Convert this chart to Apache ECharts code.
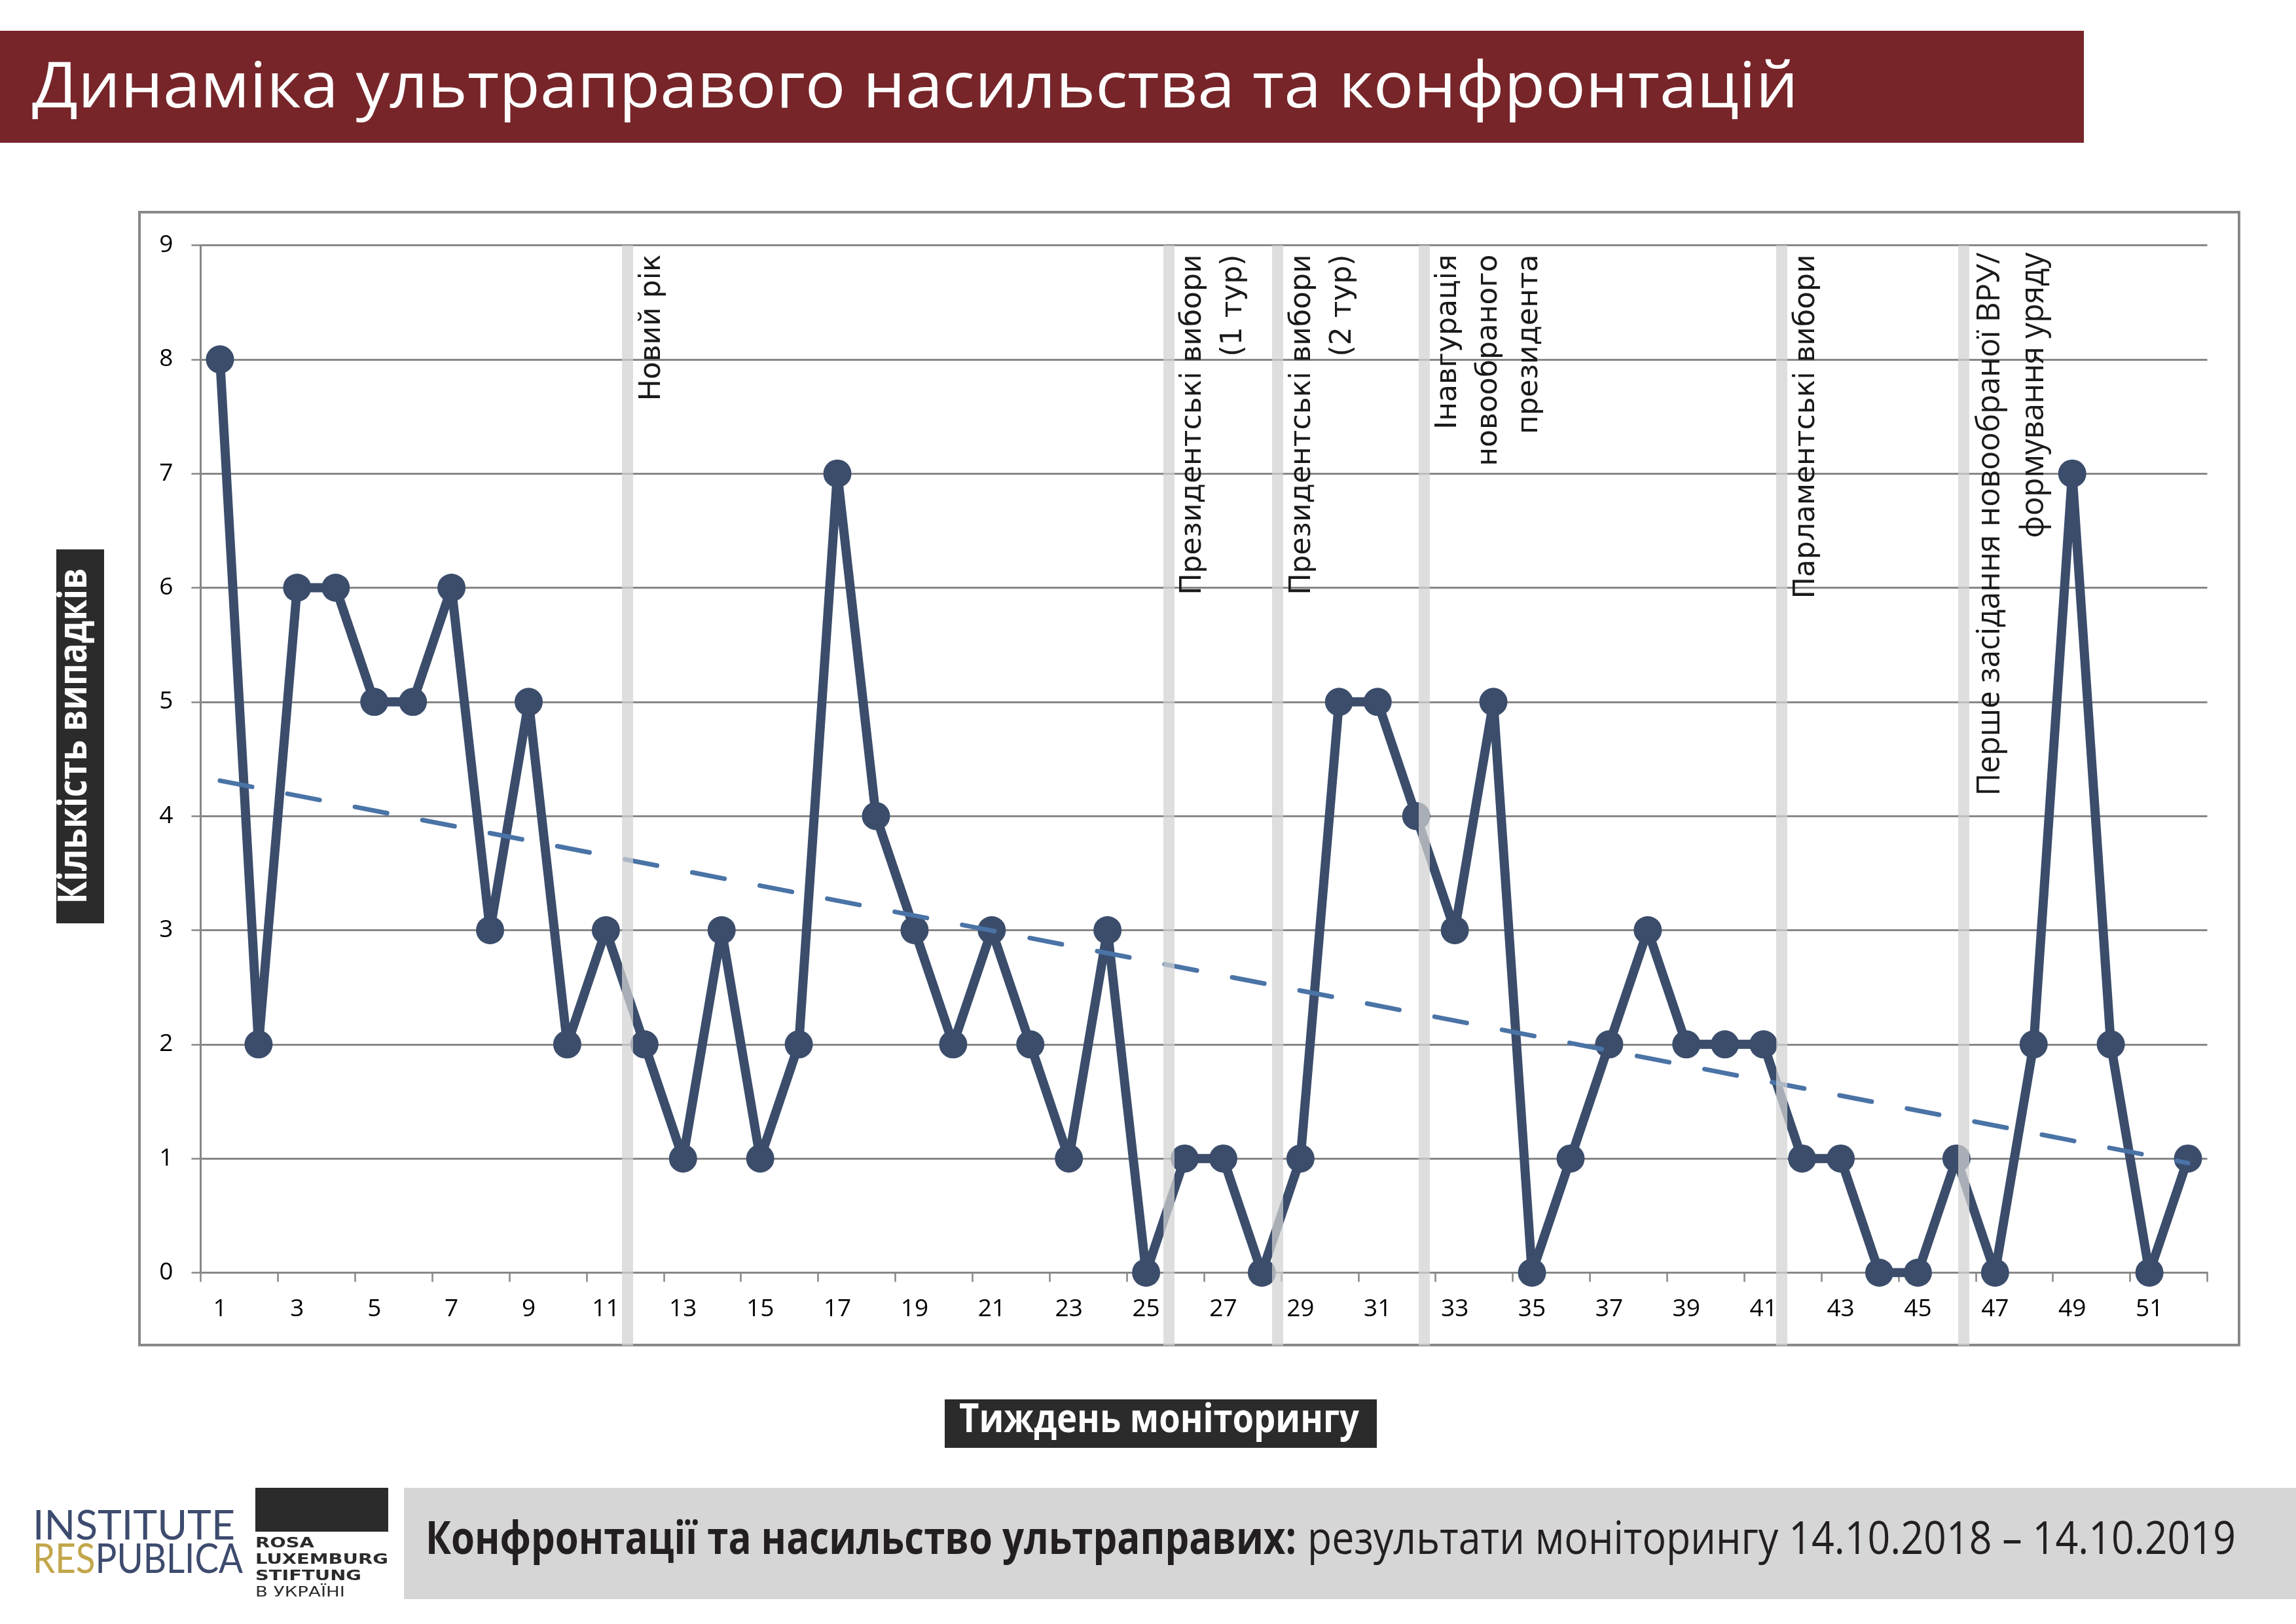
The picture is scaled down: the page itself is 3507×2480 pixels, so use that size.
<!DOCTYPE html>
<html><head><meta charset="utf-8">
<script src="https://cdn.jsdelivr.net/npm/echarts@6/dist/echarts.min.js"></script>
<style>html,body{margin:0;padding:0;background:#fff}#c{width:3507px;height:2480px}</style>
</head><body><div id="c"></div>
<script>
// ---- data ----
const weeks = ['1','2','3','4','5','6','7','8','9','10','11','12','13','14','15','16','17','18','19','20','21','22','23','24','25','26','27','28','29','30','31','32','33','34','35','36','37','38','39','40','41','42','43','44','45','46','47','48','49','50','51','52'];
const incidents = [8,2,6,6,5,5,6,3,5,2,3,2,1,3,1,2,7,4,3,2,3,2,1,3,0,1,1,0,1,5,5,4,3,5,0,1,2,3,2,2,2,1,1,0,0,1,0,2,7,2,0,1];
const trendWeeks = ['1','52'];
const trendValues = [4.31, 0.96];
const eventWeeks = [11.56, 25.58, 28.41, 32.2, 41.47, 46.18];
const eventLabels = ['Новий рік','Президентські вибори\n(1 тур)','Президентські вибори\n(2 тур)','Інавгурація\nновообраного\nпрезидента','Парламентські вибори','Перше засідання новообраної ВРУ/\nформування уряду'];
const titleText = 'Динаміка ультраправого насильства та конфронтацій';
const yName = 'Кількість випадків';
const xName = 'Тиждень моніторингу';
const footBold = 'Конфронтації та насильство ультраправих:';
const footReg = 'результати моніторингу 14.10.2018 – 14.10.2019';

// ---- helpers ----
const mctx = document.createElement('canvas').getContext('2d');
function mw(t, f){ mctx.font = f; return mctx.measureText(t).width; }
function txt(o){
  const s = o.w ? o.w / mw(o.text, o.font) : 1;
  return {type:'text', x:o.x, y:o.y, rotation:o.rot||0, scaleX:s, silent:true, z:200,
    style:{text:o.text, font:o.font, fill:o.fill, align:o.align||'left', verticalAlign:o.va||'middle', lineHeight:o.lh}};
}

const chart = echarts.init(document.getElementById('c'), null, {renderer:'canvas', width:3507, height:2480});
const gray = '#878787';
chart.setOption({
  animation:false,
  backgroundColor:'#ffffff',
  textStyle:{fontFamily:'"Open Sans"'},
  grid:[
    {left:306.5, right:135.5, top:374.5, bottom:536.5, outerBoundsMode:'none'},
    {left:306.5, right:135.5, top:374.5, bottom:425, outerBoundsMode:'none'}
  ],
  xAxis:[
    {type:'category', gridIndex:0, data:weeks, boundaryGap:true,
     axisLine:{show:true, lineStyle:{color:gray, width:3}},
     axisTick:{show:true, interval:1, length:14, lineStyle:{color:gray, width:2.5}},
     axisLabel:{interval:1, fontSize:37, fontFamily:'"Open Sans"', color:'#000', margin:37},
     splitLine:{show:false}},
    {type:'value', gridIndex:1, min:0.5, max:52.5, show:false}
  ],
  yAxis:[
    {type:'value', gridIndex:0, min:0, max:9, interval:1,
     axisLine:{show:true, lineStyle:{color:gray, width:3}},
     axisTick:{show:true, length:14, lineStyle:{color:gray, width:2.5}},
     axisLabel:{fontSize:37, fontFamily:'"Open Sans"', color:'#000', margin:42},
     splitLine:{show:true, lineStyle:{color:gray, width:3}}},
    {type:'value', gridIndex:1, min:0, max:1, show:false}
  ],
  series:[
    {type:'line', name:'incidents', data:incidents, symbol:'circle', symbolSize:43, showSymbol:true, showAllSymbol:true,
     lineStyle:{color:'#3b4d6b', width:14}, itemStyle:{color:'#3b4d6b'}, z:3, silent:true},
    {type:'line', name:'trend', data:trendWeeks.map((w,i)=>[w, trendValues[i]]), symbol:'none',
     lineStyle:{color:'#4a73a6', width:7, type:[50,55], cap:'round'}, z:4, silent:true},
    {type:'line', name:'events', xAxisIndex:1, yAxisIndex:1, data:[], z:5, silent:true,
     markLine:{silent:true, symbol:['none','none'], label:{show:false},
       lineStyle:{color:'rgba(210,210,210,0.73)', width:17, type:'solid'},
       emphasis:{disabled:true},
       data:eventWeeks.map(w=>({xAxis:w}))}}
  ]
});

// ---- static graphics ----
const G = [];
G.push({type:'rect', shape:{x:0,y:47,width:3183,height:171}, style:{fill:'#772529'}, z:1, silent:true});
G.push(txt({text:titleText, font:'97px "Open Sans"', fill:'#ffffff', x:49, y:174-0.388*97, w:2698}));
G.push({type:'rect', shape:{x:213,y:324,width:3207,height:1730}, style:{fill:'none', stroke:'#888888', lineWidth:4}, z:1, silent:true});
// y name box
G.push({type:'rect', shape:{x:86,y:839,width:73,height:571}, style:{fill:'#2b2b2b'}, z:150, silent:true});
G.push(txt({text:yName, font:'bold 60px "Open Sans"', fill:'#fff', x:138.4-0.388*60, y:1124, w:513, align:'center', rot:Math.PI/2}));
// x name box
G.push({type:'rect', shape:{x:1443,y:2137,width:660,height:74}, style:{fill:'#2b2b2b'}, z:150, silent:true});
G.push(txt({text:xName, font:'bold 60px "Open Sans"', fill:'#fff', x:1770.5, y:2193-0.388*60, w:611, align:'center'}));
// footer
G.push({type:'rect', shape:{x:617,y:2272,width:2890,height:170}, style:{fill:'#d6d6d6'}, z:150, silent:true});
G.push(txt({text:footBold, font:'bold 70px "Open Sans"', fill:'#231f20', x:650, y:2380-0.388*70, w:1330}));
G.push(txt({text:footReg, font:'70px "Open Sans"', fill:'#231f20', x:1997, y:2380-0.388*70, w:1418}));
// logo: Institute Respublica
const lf = '62px Lato';
G.push(txt({text:'INSTITUTE', font:lf, fill:'#3d4b6e', x:50, y:2355-0.387*62, w:309}));
const sR = 321/mw('RESPUBLICA', lf);
G.push({type:'text', x:50, y:2406-0.387*62, scaleX:sR, silent:true, z:200, style:{text:'RES', font:lf, fill:'#c2a64a', align:'left', verticalAlign:'middle'}});
G.push({type:'text', x:50+mw('RES', lf)*sR, y:2406-0.387*62, scaleX:sR, silent:true, z:200, style:{text:'PUBLICA', font:lf, fill:'#3d4b6e', align:'left', verticalAlign:'middle'}});
// logo: Rosa Luxemburg
G.push({type:'rect', shape:{x:390,y:2272,width:203,height:67}, style:{fill:'#2b2b2b'}, z:150, silent:true});
const rf = 'bold 21px "DejaVu Sans"';
const sL = 203/mw('LUXEMBURG', rf);
[['ROSA',2365],['LUXEMBURG',2390],['STIFTUNG',2415]].forEach(([t,b])=>{
  G.push({type:'text', x:390, y:b-0.346*21, scaleX:sL, silent:true, z:200, style:{text:t, font:rf, fill:'#2b2b2b', align:'left', verticalAlign:'middle'}});
});
G.push(txt({text:'В УКРАЇНІ', font:'21px "DejaVu Sans"', fill:'#2b2b2b', x:390, y:2440-0.346*21, w:137}));

// ---- event annotations (positions from axes) ----
const topY = chart.convertToPixel({yAxisIndex:0}, 9);
eventWeeks.forEach((w,i)=>{
  const bx = chart.convertToPixel({xAxisIndex:1}, w);
  const cond = (i === eventLabels.length-1);
  const font = cond ? '49px "Open Sans"' : '44px "DejaVu Sans"';
  const lines = eventLabels[i].split('\n');
  const s = cond ? 830/mw(lines[0], font) : 1;
  G.push({type:'text', x:bx+(cond?8:7), y:topY+(cond?11:14), rotation:Math.PI/2, scaleX:s, silent:true, z:210,
    style:{text:eventLabels[i], font:font, fill:'#1a1a1a', align:'right', verticalAlign:'top', lineHeight:cond?67:62}});
});
chart.setOption({graphic:{elements:G}});
</script>
</body></html>
